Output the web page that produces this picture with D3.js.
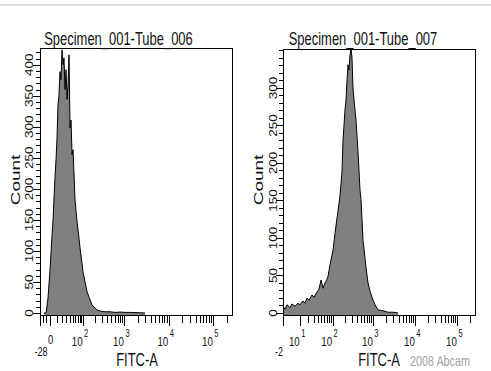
<!DOCTYPE html>
<html>
<head>
<meta charset="utf-8">
<script src="https://cdn.jsdelivr.net/npm/d3@7"></script>
<style>
    body { margin: 0; background: #fff; }
    svg { display: block; }
    text { font-family: "Liberation Sans", Arial, sans-serif; }
</style>
</head>
<body>
<div id="chart"></div>
<script>
const titles = ["Specimen_001-Tube_006", "Specimen_001-Tube_007"];
const xTitle = "FITC-A";
const yTitle = "Count";
const credit = "2008 Abcam";

// Tube_006 histogram: FITC-A value, events
const fitc006 = [-16, -10, -4.4, 0.6, 3, 4.3, 7, 8.6, 10.2, 11.8,
    13.6, 15.5, 17.4, 19.5, 21.7, 23.9, 26.4, 28.9, 31.6, 34.4,
    37.3, 40.5, 43.7, 47.2, 50.8, 58.7, 67.4, 72.1, 82.3, 93.6,
    99.7, 113, 128, 153, 171, 204, 228, 270, 356, 467,
    611, 797, 1038, 1350, 2277, 2954];
const count006 = [0, 0, 24, 70, 125, 150, 218, 247, 282, 335,
    352, 389, 376, 424, 400, 411, 360, 392, 344, 368,
    416, 298, 311, 255, 263, 182, 147, 134, 105, 79,
    66, 50, 34, 21, 13, 8, 5, 3, 2, 2,
    1, 1.5, 1, 1, 0.5, 0];

// Tube_007 histogram
const fitc007 = [-2, -0.67, 0.48, 2.1, 3.3, 5.4, 7.9, 9.8, 13, 15.5,
    18.3, 21.4, 26.7, 30.8, 37.8, 43.2, 49.2, 55.8, 63.3, 71.6,
    76.1, 85.8, 103, 116, 138, 155, 173, 184, 206, 218,
    231, 244, 258, 273, 289, 306, 323, 342, 383, 428,
    478, 505, 565, 632, 668, 746, 833, 930, 1098, 1296,
    1705, 2244, 2957, 3890];
const count007 = [9, 5, 11, 7, 12, 9, 13, 11, 16, 13,
    20, 17, 24, 21, 28, 32, 44, 33, 40, 45,
    49, 64, 84, 107, 137, 157, 188, 231, 271, 284,
    311, 331, 324, 344, 353, 340, 300, 284, 257, 215,
    164, 151, 97, 73, 61, 40, 29, 21, 11, 4,
    3, 1, 1, 0];

const yMajor006 = [0, 50, 100, 150, 200, 250, 300, 350, 400];
const yMajor007 = [0, 50, 100, 150, 200, 250, 300];
const xMin006 = -28;
const xMin007 = -2;
const decades006 = [2, 3, 4, 5];
const decades007 = [1, 2, 3, 4, 5];
const xMax = 262143;

const width = 491, height = 371;
const SX = 0.72; // glyphs in the picture are narrow / tall
const ink = '#111';

const panels = [
    {title: titles[0], fitc: fitc006, count: count006, yMajor: yMajor006, xMin: xMin006, decades: decades006,
        left: 40, right: 232, top: 48, bottom: 315, zeroX: 49.5, c: 21.5, yDomain: [-3.2, 427],
        titleX: 118.5, xTitleX: 137, countX: 20, tickLabelX: 33, showZero: true, minAnchor: 'middle'},
    {title: titles[1], fitc: fitc007, count: count007, yMajor: yMajor007, xMin: xMin007, decades: decades007,
        left: 283, right: 475, top: 49, bottom: 315, zeroX: 286, c: 8.5, yDomain: [-2.7, 352],
        titleX: 363, xTitleX: 379, countX: 263, tickLabelX: 277, showZero: false, minAnchor: 'end'}
];

const svg = d3.select('#chart')
    .append('svg')
    .attr('width', width)
    .attr('height', height);

svg.append('rect').attr('width', width).attr('height', height).attr('fill', '#fff');
svg.append('rect').attr('x', 0).attr('y', 4).attr('width', width).attr('height', 2).attr('fill', '#dedede');

function hText(g, s, x, y, size, anchor, fill)
{
    return g.append('text')
        .attr('transform', `translate(${x},${y}) scale(${SX},1)`)
        .attr('text-anchor', anchor || 'middle')
        .attr('font-size', size)
        .attr('fill', fill || ink)
        .text(s);
}

function vText(g, s, x, y, size, sx)
{
    return g.append('text')
        .attr('transform', `translate(${x},${y}) scale(${sx || SX},1) rotate(-90)`)
        .attr('text-anchor', 'middle')
        .attr('font-size', size)
        .attr('fill', ink)
        .text(s);
}

// biexponential-ish display: linear below zero, symlog above
function makeX(p)
{
    const neg = d3.scaleLinear().domain([p.xMin, 0]).range([p.left, p.zeroX]);
    const pos = d3.scaleSymlog().constant(p.c).domain([0, xMax]).range([p.zeroX, p.right]);
    return v => v < 0 ? neg(v) : pos(v);
}

function drawPanel(p, i)
{
    const g = svg.append('g');
    const x = makeX(p);
    const y = d3.scaleLinear().domain(p.yDomain).range([p.bottom, p.top]);

    g.append('clipPath').attr('id', 'clip' + i)
        .append('rect')
        .attr('x', p.left).attr('y', p.top)
        .attr('width', p.right - p.left).attr('height', p.bottom - p.top);

    const pts = d3.zip(p.fitc, p.count);
    g.append('path')
        .datum(pts)
        .attr('clip-path', `url(#clip${i})`)
        .attr('fill', '#808080')
        .attr('d', d3.area().x(d => x(d[0])).y0(p.bottom).y1(d => y(d[1])));
    g.append('path')
        .datum(pts)
        .attr('clip-path', `url(#clip${i})`)
        .attr('fill', 'none')
        .attr('stroke', '#000')
        .attr('stroke-width', 1)
        .attr('d', d3.line().x(d => x(d[0])).y(d => y(d[1])));

    // frame
    g.append('rect')
        .attr('x', p.left + 0.5).attr('y', p.top + 0.5)
        .attr('width', p.right - p.left).attr('height', p.bottom - p.top)
        .attr('fill', 'none').attr('stroke', '#000').attr('stroke-width', 1);

    // y ticks
    const yMaxVal = p.yDomain[1];
    const yMinor = d3.range(0, yMaxVal, 10);
    g.selectAll('.ymin').data(yMinor).enter().append('line')
        .attr('x1', p.left - 4).attr('x2', p.left)
        .attr('y1', d => Math.round(y(d)) + 0.5).attr('y2', d => Math.round(y(d)) + 0.5)
        .attr('stroke', '#000');
    g.selectAll('.ymaj').data(p.yMajor).enter().append('line')
        .attr('x1', p.left - 7).attr('x2', p.left)
        .attr('y1', d => Math.round(y(d)) + 0.5).attr('y2', d => Math.round(y(d)) + 0.5)
        .attr('stroke', '#000');
    p.yMajor.forEach(v => vText(g, String(v), p.tickLabelX, y(v), 13.5, 0.8));

    // x ticks
    const minors = [];
    if (p.xMin < -10) minors.push(-20, -10);
    if (p.showZero) d3.range(10, 100, 10).forEach(v => minors.push(v));
    p.decades.forEach(e => {
        d3.range(2, 10).forEach(k => {
            const v = k * Math.pow(10, e);
            if (v < xMax) minors.push(v);
        });
    });
    const majors = [p.xMin].concat(p.showZero ? [0] : [], p.decades.map(e => Math.pow(10, e)));

    g.selectAll('.xmin').data(minors).enter().append('line')
        .attr('x1', d => Math.round(x(d)) + 0.5).attr('x2', d => Math.round(x(d)) + 0.5)
        .attr('y1', p.bottom).attr('y2', p.bottom + 8)
        .attr('stroke', '#000');
    g.selectAll('.xmaj').data(majors).enter().append('line')
        .attr('x1', d => Math.round(x(d)) + 0.5).attr('x2', d => Math.round(x(d)) + 0.5)
        .attr('y1', p.bottom).attr('y2', p.bottom + 11)
        .attr('stroke', '#000');

    hText(g, String(p.xMin), x(p.xMin) + (p.minAnchor === 'end' ? 0 : 1), 356, 12.5, p.minAnchor);
    if (p.showZero) hText(g, '0', x(0) + 1, 344, 13);
    p.decades.forEach(e => {
        const tx = x(Math.pow(10, e));
        hText(g, '10', tx - 0.5, 345.5, 13.5, 'end');
        hText(g, String(e), tx + 1, 337, 10.5, 'start');
    });

    // titles
    hText(g, p.title, p.titleX, 45, 18);
    hText(g, xTitle, p.xTitleX, 366, 18);
    vText(g, yTitle, p.countX, 180, 19);
}

panels.forEach(drawPanel);

hText(svg, credit, 410, 366, 15, 'start', '#a3a3a3');
</script>
</body>
</html>
